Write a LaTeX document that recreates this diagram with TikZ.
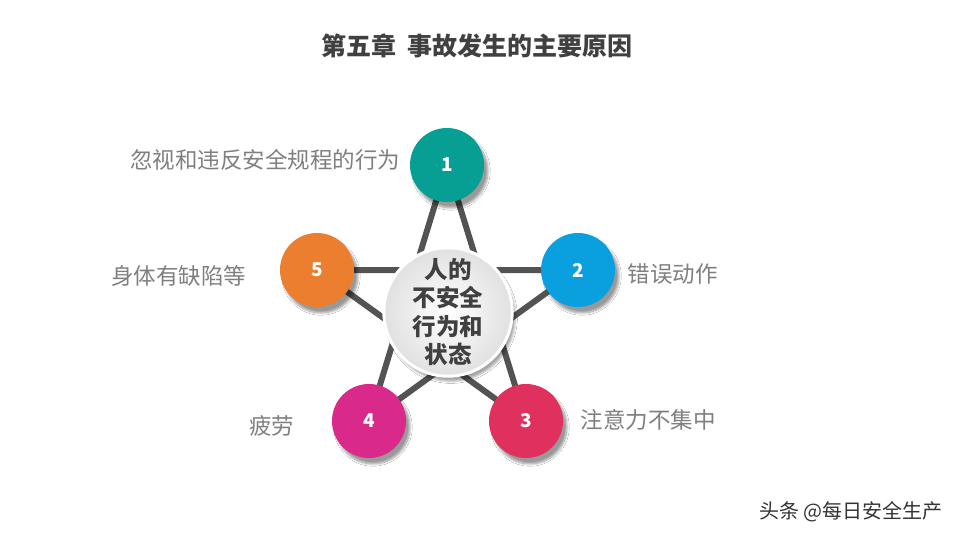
\documentclass[tikz,border=0pt]{standalone}
\usepackage{fontspec}
\setmainfont{Noto Sans CJK SC}
\usetikzlibrary{shadows.blur}
\definecolor{cA}{HTML}{079E94}
\definecolor{cB}{HTML}{0AA0DF}
\definecolor{cC}{HTML}{E0305E}
\definecolor{cD}{HTML}{D9298A}
\definecolor{cE}{HTML}{EC7F2F}
\definecolor{lab}{HTML}{7F7F7F}
\definecolor{ttl}{HTML}{404040}
\begin{document}
\begin{tikzpicture}[x=1pt,y=-1pt,
 ball/.style={circle,minimum size=74pt,inner sep=0pt,text=white,font=\fontsize{19}{19}\selectfont\bfseries,blur shadow={shadow xshift=4pt,shadow yshift=-6pt,shadow blur steps=8,shadow opacity=40}},
 lbl/.style={text=lab,font=\fontsize{22.5}{22.5}\selectfont},
 edge/.style={line width=6pt,draw=ttl!90}]
\useasboundingbox (0,0) rectangle (960,540);
\fill[white] (0,0) rectangle (960,540);
\node[font=\fontsize{25}{25}\selectfont\bfseries,text=ttl] (t) at (477,46) {第五章\ \ 事故发生的主要原因};
\coordinate (p1) at (447,165);
\coordinate (p2) at (578,270);
\coordinate (p3) at (526,421);
\coordinate (p4) at (369,421);
\coordinate (p5) at (317,270);
\draw[edge] (p1)--(p3) (p1)--(p4) (p2)--(p5) (p2)--(p4) (p5)--(p3);
\node[circle,minimum size=126pt,inner sep=0pt,draw=white,line width=3pt,
 inner color=white,outer color=black!12,
 blur shadow={shadow xshift=3pt,shadow yshift=-5pt,shadow opacity=35},
 align=center,text=ttl,font=\fontsize{23.5}{28.5}\selectfont\bfseries] (c) at (448,312) {人的\\不安全\\行为和\\状态};
\node[ball,fill=cA] (n1) at (p1) {1};
\node[ball,fill=cB] (n2) at (p2) {2};
\node[ball,fill=cC] (n3) at (p3) {3};
\node[ball,fill=cD] (n4) at (p4) {4};
\node[ball,fill=cE] (n5) at (p5) {5};
\node[lbl,anchor=east] (l1) at (404,160) {忽视和违反安全规程的行为};
\node[lbl,anchor=west] (l2) at (624,274) {错误动作};
\node[lbl,anchor=west] (l3) at (577,420) {注意力不集中};
\node[lbl,anchor=east] (l4) at (298,426) {疲劳};
\node[lbl,anchor=east] (l5) at (250,276) {身体有缺陷等};
\node[anchor=east,text=black!80,font=\fontsize{20}{20}\selectfont] (w) at (946,512) {头条 @每日安全生产};
\end{tikzpicture}
\end{document}
